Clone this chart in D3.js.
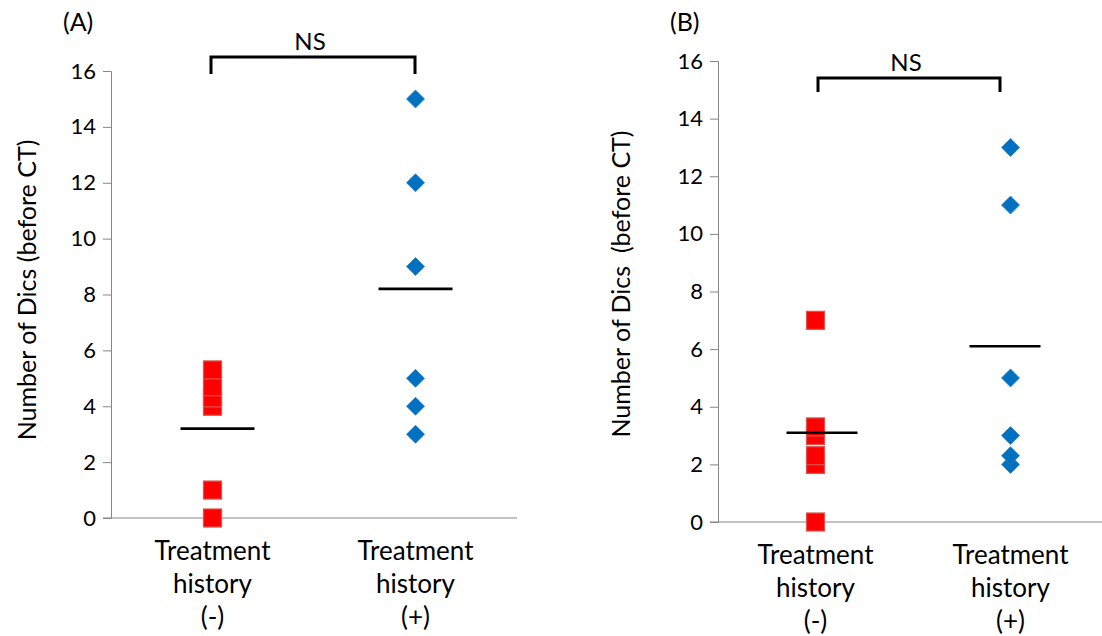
<!DOCTYPE html>
<html>
<head>
<meta charset="utf-8">
<script src="https://cdn.jsdelivr.net/npm/d3@7"></script>
<style>
  body { margin:0; background:#fff; }
  svg text { font-family: Lato, "Open Sans", sans-serif; fill:#000; white-space: pre; }
</style>
</head>
<body>
<svg id="chart" width="1102" height="636"></svg>
<script>
// values
const categories = ['neg', 'pos'];
const categoryLines = [['Treatment', 'history', '(-)'], ['Treatment', 'history', '(+)']];
const yTicks = [0, 2, 4, 6, 8, 10, 12, 14, 16];

const panelANeg = [0, 1, 4, 4.3, 4.7, 5.3];
const panelAPos = [3, 4, 5, 9, 12, 15];
const panelAMeans = [3.2, 8.2];

const panelBNeg = [0, 2, 2.3, 3, 3.3, 7];
const panelBPos = [2, 2.3, 3, 5, 11, 13];
const panelBMeans = [3.1, 6.1];

const yLabelA = 'Number of Dics (before CT)';
const yLabelB = 'Number of Dics  (before CT)';
const sigLabel = 'NS';

const svg = d3.select('#chart');

function drawPanel(p){
  const g = svg.append('g');
  const y = d3.scaleLinear().domain([0, 16]).range([p.y0, p.y16]);
  const x = d3.scalePoint().domain(categories).range([p.left, p.right]).padding(0.5);

  // y axis
  const ya = g.append('g').attr('transform', `translate(${p.left},0)`)
    .call(d3.axisLeft(y).tickValues(yTicks).tickSize(8).tickPadding(7).tickFormat(d3.format('d')));
  ya.select('.domain').attr('stroke', '#868686');
  ya.selectAll('.tick line').attr('stroke', '#868686');
  ya.selectAll('.tick text').attr('font-size', 22).attr('font-family', 'Lato, sans-serif');

  // x axis line
  g.append('line').attr('x1', p.left - 8).attr('x2', Math.min(p.right, 1102))
    .attr('y1', y(0)).attr('y2', y(0)).attr('stroke', '#868686').attr('stroke-width', 1);

  // category labels
  categoryLines.forEach((lines, i) => {
    lines.forEach((t, j) => {
      g.append('text').attr('x', x(categories[i])).attr('y', p.labelY + j * 33)
        .attr('text-anchor', 'middle').attr('font-size', 26).text(t);
    });
  });

  // red squares
  const s = 18;
  g.selectAll('rect.neg').data(p.neg).enter().append('rect').attr('class', 'neg')
    .attr('x', x('neg') - s / 2).attr('y', d => y(d) - s / 2)
    .attr('width', s).attr('height', s)
    .attr('fill', '#ff0000').attr('stroke', '#d9534f').attr('stroke-width', 1.2);

  // blue diamonds
  const r = 9;
  g.selectAll('path.pos').data(p.pos).enter().append('path').attr('class', 'pos')
    .attr('d', d => `M${x('pos')},${y(d) - r}L${x('pos') + r},${y(d)}L${x('pos')},${y(d) + r}L${x('pos') - r},${y(d)}Z`)
    .attr('fill', '#0070c0').attr('stroke', '#2f7fc4').attr('stroke-width', 0.8);

  // mean lines
  g.selectAll('line.mean').data(p.means).enter().append('line').attr('class', 'mean')
    .attr('x1', (d, i) => x(categories[i]) + p.meanOff[i][0])
    .attr('x2', (d, i) => x(categories[i]) + p.meanOff[i][1])
    .attr('y1', d => y(d)).attr('y2', d => y(d))
    .attr('stroke', '#000').attr('stroke-width', 2.6);

  // bracket
  g.append('path')
    .attr('d', `M${p.brL},${p.brBot}V${p.brTop}H${p.brR}V${p.brBot}`)
    .attr('fill', 'none').attr('stroke', '#000').attr('stroke-width', 3);
  g.append('text').attr('x', (p.brL + p.brR) / 2 - 3).attr('y', p.brTop - 7)
    .attr('text-anchor', 'middle').attr('font-size', 24).text(sigLabel);

  // panel letter
  g.append('text').attr('x', p.letterX).attr('y', 31).attr('font-size', 25).text(p.letter);

  // y label
  g.append('text').attr('transform', `translate(${p.yLabX},${p.yLabY}) rotate(-90)`)
    .attr('text-anchor', 'middle').attr('font-size', 25).text(p.yLabel);
}

drawPanel({
  letter: '(A)', letterX: 63, left: 111, right: 517, y0: 518, y16: 71,
  neg: panelANeg, pos: panelAPos, means: panelAMeans, yLabel: yLabelA,
  meanOff: [[-32, 42], [-37, 37]],
  brL: 211, brR: 415, brTop: 57, brBot: 74, labelY: 560, yLabX: 36, yLabY: 290
});

drawPanel({
  letter: '(B)', letterX: 670, left: 718, right: 1108, y0: 522, y16: 61,
  neg: panelBNeg, pos: panelBPos, means: panelBMeans, yLabel: yLabelB,
  meanOff: [[-29, 42], [-41, 30]],
  brL: 818, brR: 1000, brTop: 78, brBot: 92, labelY: 564, yLabX: 630, yLabY: 284
});
</script>
</body>
</html>
